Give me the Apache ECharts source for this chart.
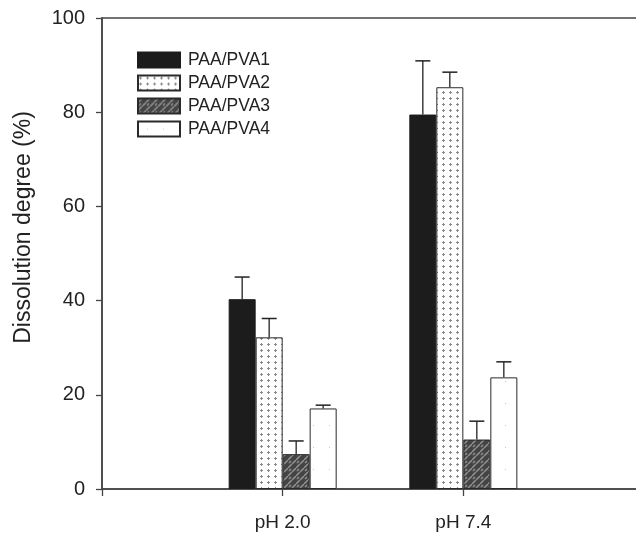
<!DOCTYPE html>
<html>
<head>
<meta charset="utf-8">
<script src="https://cdn.jsdelivr.net/npm/echarts@6/dist/echarts.min.js"></script>
<style>
html,body{margin:0;padding:0;background:#fff;}
#chart{width:636px;height:534px;}
</style>
</head>
<body>
<div id="chart"></div>
<script>
const categories = ['', 'pH 2.0', 'pH 7.4', ''];
const seriesNames = ['PAA/PVA1', 'PAA/PVA2', 'PAA/PVA3', 'PAA/PVA4'];
const pva1 = [null, 40.3, 79.5, null];
const pva2 = [null, 32.2, 85.3, null];
const pva3 = [null, 7.4, 10.5, null];
const pva4 = [null, 17.1, 23.7, null];
const err1 = [null, 4.7, 11.4, null];
const err2 = [null, 4.0, 3.2, null];
const err3 = [null, 2.8, 3.9, null];
const err4 = [null, 0.7, 3.3, null];
const yTicks = [0, 20, 40, 60, 80, 100];

const values = [pva1, pva2, pva3, pva4];
const errors = [err1, err2, err3, err4];

function makeDotPattern() {
  const c = document.createElement('canvas');
  c.width = 7; c.height = 6;
  const g = c.getContext('2d');
  g.fillStyle = '#ffffff'; g.fillRect(0, 0, 7, 6);
  g.fillStyle = '#8a8a8a';
  g.fillRect(2, 1, 1, 3);
  g.fillRect(1, 2, 3, 1);
  return c;
}
function makeHatchPattern() {
  const c = document.createElement('canvas');
  c.width = 8; c.height = 8;
  const g = c.getContext('2d');
  g.fillStyle = '#444444'; g.fillRect(0, 0, 8, 8);
  g.strokeStyle = '#8e8e8e'; g.lineWidth = 1.6;
  g.beginPath();
  g.moveTo(0, 4); g.lineTo(4, 0);
  g.moveTo(4, 8); g.lineTo(8, 4);
  g.moveTo(1, 7); g.lineTo(3, 5);
  g.stroke();
  return c;
}
function makeSparsePattern() {
  const c = document.createElement('canvas');
  c.width = 16; c.height = 22;
  const g = c.getContext('2d');
  g.fillStyle = '#ffffff'; g.fillRect(0, 0, 16, 22);
  g.fillStyle = '#c8c8c8';
  g.fillRect(9, 7, 1, 1);
  return c;
}

const fills = [
  '#1c1c1c',
  { image: makeDotPattern(), repeat: 'repeat' },
  { image: makeHatchPattern(), repeat: 'repeat' },
  { image: makeSparsePattern(), repeat: 'repeat' }
];
const borders = ['#1c1c1c', '#2a2a2a', '#2a2a2a', '#2a2a2a'];

const BAR_W = 27;
const legendText = { fontFamily: 'Liberation Sans', fontSize: 17.5, color: '#222', padding: [0, 0, 0, 3] };
const series = [];
seriesNames.forEach((name, i) => {
  series.push({
    name: name,
    type: 'bar',
    data: values[i],
    barWidth: BAR_W,
    barGap: '0%',
    itemStyle: { color: fills[i], borderColor: borders[i], borderWidth: 1 },
    emphasis: { disabled: true },
    z: 2
  });
});
seriesNames.forEach((name, i) => {
  const d = [];
  values[i].forEach((v, k) => { if (v != null) d.push([k, v, errors[i][k]]); });
  series.push({
    type: 'custom',
    name: name + ' err',
    data: d,
    z: 3,
    silent: true,
    renderItem: function (params, api) {
      const offset = (i - 1.5) * BAR_W;
      const base = api.coord([api.value(0), api.value(1)]);
      const top = api.coord([api.value(0), api.value(1) + api.value(2)]);
      const x = base[0] + offset;
      return {
        type: 'group',
        children: [
          { type: 'line', shape: { x1: x, y1: base[1], x2: x, y2: top[1] }, style: { stroke: '#222', lineWidth: 1.3 } },
          { type: 'line', shape: { x1: x - 7.5, y1: top[1], x2: x + 7.5, y2: top[1] }, style: { stroke: '#222', lineWidth: 1.5 } }
        ]
      };
    }
  });
});

const chart = echarts.init(document.getElementById('chart'), null, { renderer: 'canvas' });
chart.setOption({
  animation: false,
  backgroundColor: '#ffffff',
  grid: { left: 102, width: 542, top: 18, bottom: 45, outerBoundsMode: 'none', containLabel: false, show: true, borderColor: '#444', borderWidth: 1.5, backgroundColor: 'transparent' },
  legend: {
    data: seriesNames.map(n => ({ name: n, textStyle: legendText })),
    orient: 'vertical',
    left: 137,
    top: 51,
    padding: 0,
    itemWidth: 42,
    itemHeight: 15,
    itemGap: 5,
    icon: 'rect',
    textStyle: legendText
  },
  xAxis: {
    type: 'category',
    data: categories,
    boundaryGap: false,
    axisLine: { lineStyle: { color: '#444', width: 1.5 } },
    axisTick: { show: true, length: 7, inside: false, lineStyle: { color: '#444', width: 1.3 } },
    axisLabel: { fontFamily: 'Liberation Sans', fontSize: 19, color: '#222', margin: 24 },
    splitLine: { show: false }
  },
  yAxis: {
    type: 'value',
    min: yTicks[0],
    max: yTicks[yTicks.length - 1],
    interval: 20,
    name: 'Dissolution degree (%)',
    nameLocation: 'middle',
    nameGap: 67,
    nameTextStyle: { fontFamily: 'Liberation Sans', fontSize: 23, color: '#222', padding: [0, 0, 0, 52] },
    axisLine: { show: true, lineStyle: { color: '#444', width: 1.5 } },
    axisTick: { show: true, length: 6, inside: false, lineStyle: { color: '#444', width: 1.3 } },
    axisLabel: { fontFamily: 'Liberation Sans', fontSize: 20, color: '#222', margin: 17 },
    splitLine: { show: false }
  },
  series: series
});
</script>
</body>
</html>
